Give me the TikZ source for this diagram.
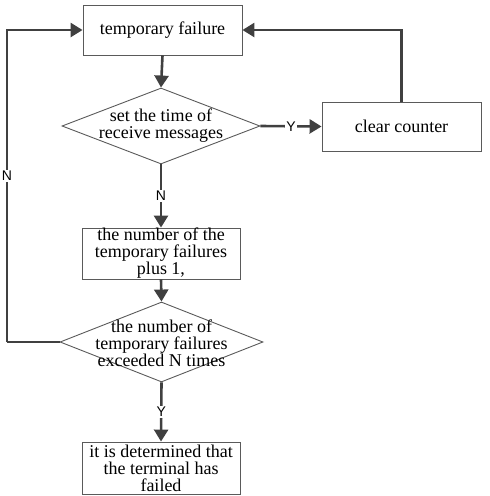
\documentclass[tikz,border=0pt]{standalone}
\usepackage{fontspec}
\setmainfont{Liberation Serif}
\newfontfamily\lblfont{Liberation Sans}
\usetikzlibrary{shapes.geometric,arrows.meta}
\definecolor{boxc}{HTML}{5A5A5A}
\definecolor{linec}{HTML}{404040}
\begin{document}
\begin{tikzpicture}[x=1pt,y=-1pt,
  box/.style={draw=boxc, line width=0.9pt, inner sep=0pt, align=center,
    font=\fontsize{18}{17}\selectfont},
  dia/.style={draw=boxc, line width=0.9pt, shape=diamond, inner sep=0pt},
  txt/.style={align=center, inner sep=0pt, font=\fontsize{18}{17}\selectfont},
  arr/.style={draw=linec, line width=2.6pt, -{Triangle[length=12pt,width=14pt]}},
  conn/.style={draw=linec, line width=2.6pt},
  lbl/.style={fill=white, inner sep=1pt, text=black, font=\lblfont\fontsize{14}{14}\selectfont}
]
\useasboundingbox (0,0) rectangle (490,496);

\node[box, minimum width=159pt, minimum height=50pt] (b1) at (162.5,30) {temporary failure};
\node[dia, minimum width=198pt, minimum height=76pt] (d1) at (161,126) {};
\node[txt] (t1) at (161,126) {set the time of\\receive messages};
\node[box, minimum width=159pt, minimum height=49pt] (cc) at (401.5,126.5) {clear counter};
\node[box, minimum width=158pt, minimum height=51pt] (b2) at (161,253.5) {the number of the\\temporary failures\\plus 1,};
\node[dia, minimum width=203pt, minimum height=80pt] (d2) at (161.5,342) {};
\node[txt] (t2) at (161.5,343) {the number of\\temporary failures\\exceeded N times};
\node[box, minimum width=158pt, minimum height=52pt] (b3) at (161,468) {it is determined that\\the terminal has\\failed};
\coordinate (lc) at (7,342);

\draw[arr] (b1.south) -- (d1.north);
\draw[arr] (d1.east) -- node[lbl] {Y} (cc.west);
\draw[arr] (cc.north) |- (b1.east);
\draw[arr] (d1.south) -- node[lbl] {N} (b2.north);
\draw[arr] (b2.south) -- (d2.north);
\draw[conn] (d2.west) -- (lc);
\draw[arr] (lc) |- node[lbl, pos=0.266] {N} (b1.west);
\draw[arr] (d2.south) -- node[lbl] {Y} (b3.north);
\end{tikzpicture}
\end{document}
